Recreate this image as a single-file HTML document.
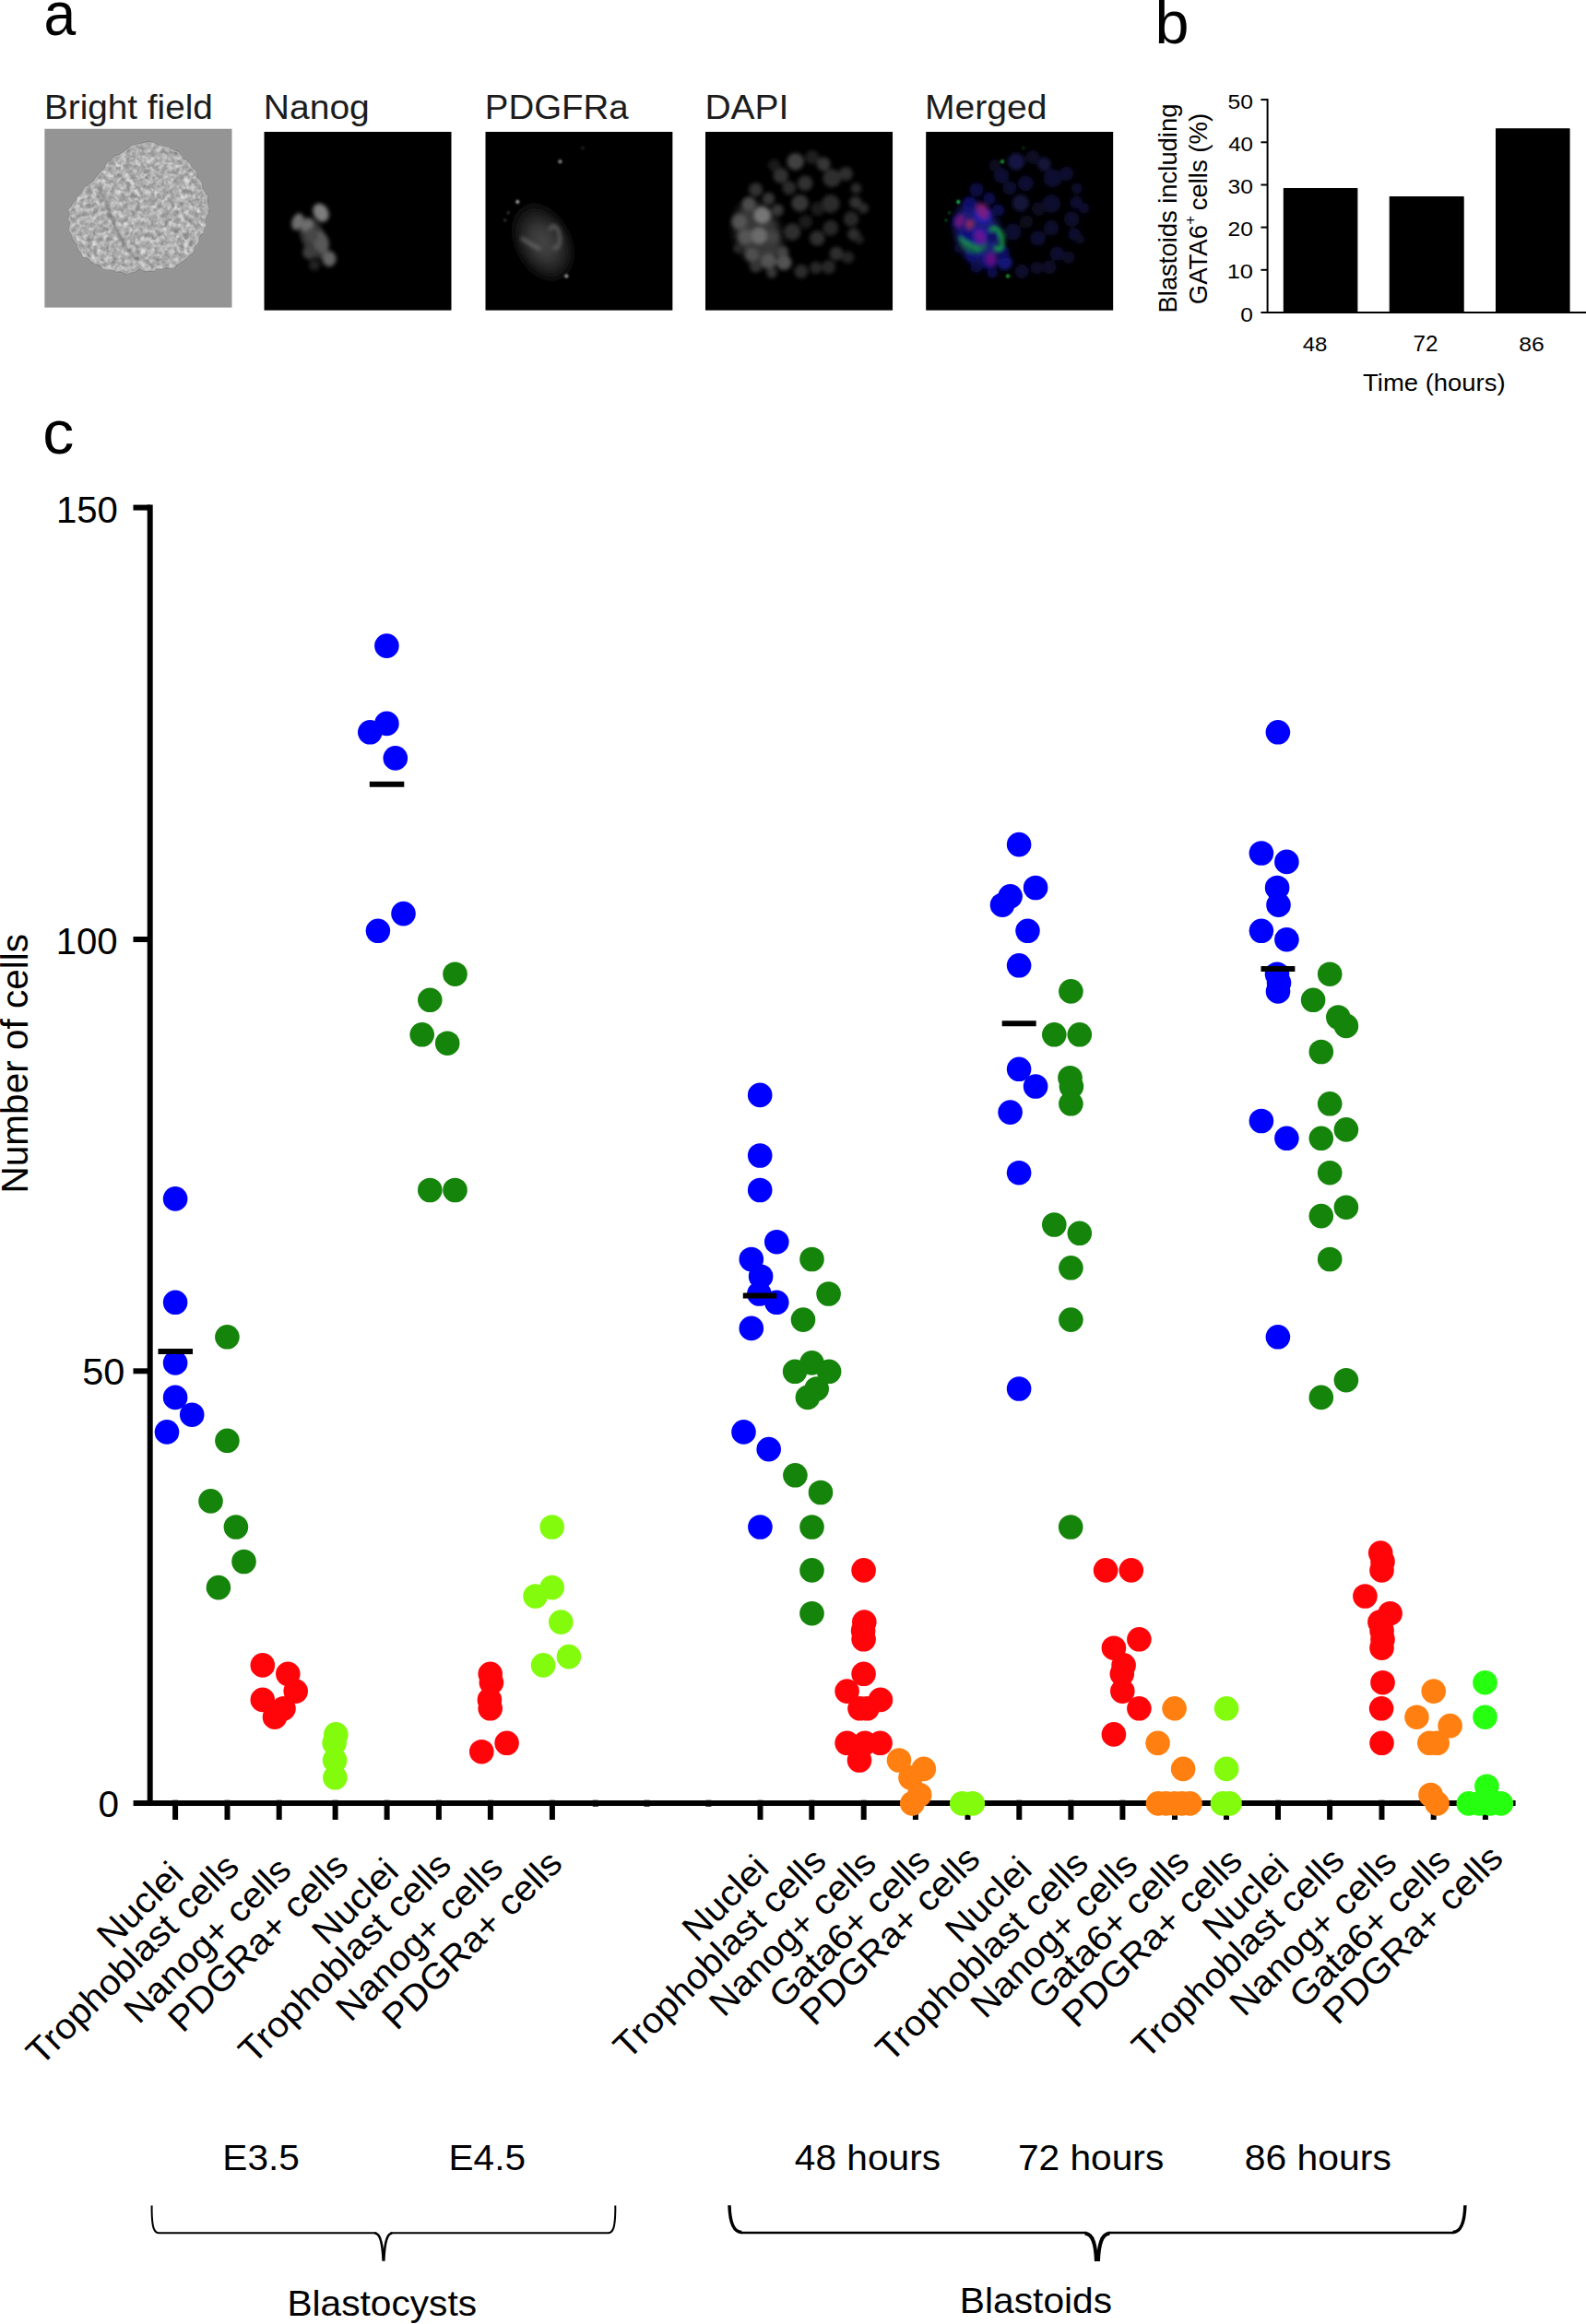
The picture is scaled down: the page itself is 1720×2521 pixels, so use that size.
<!DOCTYPE html>
<html lang="en"><head><meta charset="utf-8"><title>Figure</title>
<style>html,body{margin:0;padding:0;background:#fff}svg{display:block}text{font-family:"Liberation Sans", Arial, Helvetica, sans-serif;fill:#000}</style>
</head><body>
<svg width="1720" height="2521" viewBox="0 0 1720 2521">
<defs>
<filter id="b1" x="-50%" y="-50%" width="200%" height="200%"><feGaussianBlur stdDeviation="1.2"/></filter>
<filter id="b2" x="-50%" y="-50%" width="200%" height="200%"><feGaussianBlur stdDeviation="2.2"/></filter>
<filter id="b3" x="-50%" y="-50%" width="200%" height="200%"><feGaussianBlur stdDeviation="4"/></filter>
<filter id="b05" x="-50%" y="-50%" width="200%" height="200%"><feGaussianBlur stdDeviation="0.7"/></filter>
<filter id="tex" x="0" y="0" width="100%" height="100%"><feTurbulence type="fractalNoise" baseFrequency="0.17" numOctaves="2" seed="7" result="n"/><feColorMatrix in="n" type="matrix" values="0 0 0 0 0  0 0 0 0 0  0 0 0 0 0  2.6 0 0 0 -0.95" result="a"/><feFlood flood-color="#e6e6e6" result="f"/><feComposite in="f" in2="a" operator="in" result="sp"/><feComposite in="sp" in2="SourceGraphic" operator="in"/><feGaussianBlur stdDeviation="0.5"/></filter>
<filter id="texd" x="0" y="0" width="100%" height="100%"><feTurbulence type="fractalNoise" baseFrequency="0.19" numOctaves="2" seed="23" result="n"/><feColorMatrix in="n" type="matrix" values="0 0 0 0 0  0 0 0 0 0  0 0 0 0 0  0 2.4 0 0 -0.95" result="a"/><feFlood flood-color="#6c6c6c" result="f"/><feComposite in="f" in2="a" operator="in" result="sp"/><feComposite in="sp" in2="SourceGraphic" operator="in"/><feGaussianBlur stdDeviation="0.5"/></filter>
<clipPath id="cA"><rect x="48.2" y="139.5" width="203.5" height="194.3"/></clipPath>
<clipPath id="cB"><rect x="286.3" y="143" width="203.4" height="193.8"/></clipPath>
<clipPath id="cC"><rect x="526.3" y="143" width="203.3" height="193.8"/></clipPath>
<clipPath id="cD"><rect x="764.9" y="143" width="203.3" height="193.8"/></clipPath>
<clipPath id="cE"><rect x="1004.1" y="143" width="203.3" height="193.8"/></clipPath>
<radialGradient id="rgP" cx="0.5" cy="0.55" r="0.5"><stop offset="0" stop-color="#484848"/><stop offset="0.4" stop-color="#363636"/><stop offset="0.7" stop-color="#1c1c1c"/><stop offset="1" stop-color="#000"/></radialGradient>
</defs>
<rect width="1720" height="2521" fill="#fff"/>
<text transform="translate(47.45 38.45) scale(0.9456 0.9986)" font-size="66">a</text>
<text transform="translate(1252.41 47.31) scale(1.0084 0.9824)" font-size="66">b</text>
<text transform="translate(46.37 491.50) scale(1.0298 1.0056)" font-size="66">c</text>
<text transform="translate(47.93 129.40) scale(1.0554 1.0000)" font-size="36.7" style="fill:#1c1c1c">Bright field</text>
<text transform="translate(285.81 129.40) scale(1.0637 1.0000)" font-size="36.7" style="fill:#1c1c1c">Nanog</text>
<text transform="translate(525.86 129.40) scale(1.0470 1.0000)" font-size="36.7" style="fill:#1c1c1c">PDGFRa</text>
<text transform="translate(764.41 129.40) scale(1.0625 1.0000)" font-size="36.7" style="fill:#1c1c1c">DAPI</text>
<text transform="translate(1003.01 129.40) scale(1.0647 1.0000)" font-size="36.7" style="fill:#1c1c1c">Merged</text>
<g clip-path="url(#cA)">
<rect x="48.2" y="139.5" width="203.5" height="194.3" fill="#949494"/>
<path d="M88.8 207.5 L91.6 202.9 L98.0 198.4 L103.1 193.3 L106.3 188.0 L110.2 185.0 L113.2 182.2 L114.5 177.8 L117.1 174.9 L120.3 173.6 L122.2 170.7 L124.7 168.1 L129.2 167.3 L134.6 163.7 L141.0 158.3 L148.4 156.0 L155.1 154.5 L161.6 152.9 L167.8 154.6 L173.1 157.7 L178.6 158.0 L183.1 158.6 L186.0 161.2 L189.5 162.2 L193.4 163.4 L196.0 167.6 L199.1 171.3 L203.6 173.6 L206.3 177.3 L208.1 181.1 L211.7 183.3 L213.9 186.6 L214.3 191.3 L216.8 195.0 L219.7 198.8 L220.3 203.6 L222.2 207.9 L225.6 212.2 L226.2 217.2 L225.9 222.3 L227.3 227.1 L226.5 231.9 L223.8 236.5 L223.7 241.1 L223.9 245.3 L221.9 248.0 L221.3 250.3 L221.5 252.8 L218.9 254.8 L216.2 257.5 L215.8 261.7 L214.0 265.4 L211.3 268.2 L210.7 272.1 L209.4 275.5 L205.8 276.9 L203.3 279.4 L201.0 282.8 L196.8 284.6 L193.0 286.8 L190.4 290.5 L186.1 291.5 L180.9 290.9 L176.9 292.2 L173.3 292.7 L170.2 291.6 L168.7 292.9 L167.4 295.1 L164.9 294.5 L161.7 294.1 L158.2 295.1 L154.4 293.7 L151.0 292.2 L148.1 294.3 L145.4 296.0 L142.9 295.9 L139.8 297.6 L136.3 298.5 L133.2 296.2 L129.8 294.9 L125.9 295.4 L122.8 293.9 L119.7 292.5 L115.3 293.2 L111.5 291.9 L108.3 288.7 L103.5 287.0 L98.8 285.1 L96.3 281.7 L93.4 280.0 L89.8 279.4 L88.6 276.8 L87.4 274.1 L84.5 272.3 L83.3 269.2 L83.1 265.4 L80.5 263.0 L78.1 260.2 L77.8 256.3 L76.1 252.9 L74.0 249.7 L75.0 245.7 L75.5 241.9 L73.8 238.7 L74.0 235.4 L75.1 232.3 L73.8 229.6 L73.9 226.9 L76.6 224.3 L77.6 222.1 L78.1 220.0 L80.9 218.1 L82.5 216.1 L82.0 214.0 L84.0 212.4 L87.1 210.7 Z" fill="#acacac" filter="url(#b1)"/>
<path d="M88.8 207.5 L91.6 202.9 L98.0 198.4 L103.1 193.3 L106.3 188.0 L110.2 185.0 L113.2 182.2 L114.5 177.8 L117.1 174.9 L120.3 173.6 L122.2 170.7 L124.7 168.1 L129.2 167.3 L134.6 163.7 L141.0 158.3 L148.4 156.0 L155.1 154.5 L161.6 152.9 L167.8 154.6 L173.1 157.7 L178.6 158.0 L183.1 158.6 L186.0 161.2 L189.5 162.2 L193.4 163.4 L196.0 167.6 L199.1 171.3 L203.6 173.6 L206.3 177.3 L208.1 181.1 L211.7 183.3 L213.9 186.6 L214.3 191.3 L216.8 195.0 L219.7 198.8 L220.3 203.6 L222.2 207.9 L225.6 212.2 L226.2 217.2 L225.9 222.3 L227.3 227.1 L226.5 231.9 L223.8 236.5 L223.7 241.1 L223.9 245.3 L221.9 248.0 L221.3 250.3 L221.5 252.8 L218.9 254.8 L216.2 257.5 L215.8 261.7 L214.0 265.4 L211.3 268.2 L210.7 272.1 L209.4 275.5 L205.8 276.9 L203.3 279.4 L201.0 282.8 L196.8 284.6 L193.0 286.8 L190.4 290.5 L186.1 291.5 L180.9 290.9 L176.9 292.2 L173.3 292.7 L170.2 291.6 L168.7 292.9 L167.4 295.1 L164.9 294.5 L161.7 294.1 L158.2 295.1 L154.4 293.7 L151.0 292.2 L148.1 294.3 L145.4 296.0 L142.9 295.9 L139.8 297.6 L136.3 298.5 L133.2 296.2 L129.8 294.9 L125.9 295.4 L122.8 293.9 L119.7 292.5 L115.3 293.2 L111.5 291.9 L108.3 288.7 L103.5 287.0 L98.8 285.1 L96.3 281.7 L93.4 280.0 L89.8 279.4 L88.6 276.8 L87.4 274.1 L84.5 272.3 L83.3 269.2 L83.1 265.4 L80.5 263.0 L78.1 260.2 L77.8 256.3 L76.1 252.9 L74.0 249.7 L75.0 245.7 L75.5 241.9 L73.8 238.7 L74.0 235.4 L75.1 232.3 L73.8 229.6 L73.9 226.9 L76.6 224.3 L77.6 222.1 L78.1 220.0 L80.9 218.1 L82.5 216.1 L82.0 214.0 L84.0 212.4 L87.1 210.7 Z" fill="#fff" filter="url(#tex)" opacity="0.8"/>
<path d="M88.8 207.5 L91.6 202.9 L98.0 198.4 L103.1 193.3 L106.3 188.0 L110.2 185.0 L113.2 182.2 L114.5 177.8 L117.1 174.9 L120.3 173.6 L122.2 170.7 L124.7 168.1 L129.2 167.3 L134.6 163.7 L141.0 158.3 L148.4 156.0 L155.1 154.5 L161.6 152.9 L167.8 154.6 L173.1 157.7 L178.6 158.0 L183.1 158.6 L186.0 161.2 L189.5 162.2 L193.4 163.4 L196.0 167.6 L199.1 171.3 L203.6 173.6 L206.3 177.3 L208.1 181.1 L211.7 183.3 L213.9 186.6 L214.3 191.3 L216.8 195.0 L219.7 198.8 L220.3 203.6 L222.2 207.9 L225.6 212.2 L226.2 217.2 L225.9 222.3 L227.3 227.1 L226.5 231.9 L223.8 236.5 L223.7 241.1 L223.9 245.3 L221.9 248.0 L221.3 250.3 L221.5 252.8 L218.9 254.8 L216.2 257.5 L215.8 261.7 L214.0 265.4 L211.3 268.2 L210.7 272.1 L209.4 275.5 L205.8 276.9 L203.3 279.4 L201.0 282.8 L196.8 284.6 L193.0 286.8 L190.4 290.5 L186.1 291.5 L180.9 290.9 L176.9 292.2 L173.3 292.7 L170.2 291.6 L168.7 292.9 L167.4 295.1 L164.9 294.5 L161.7 294.1 L158.2 295.1 L154.4 293.7 L151.0 292.2 L148.1 294.3 L145.4 296.0 L142.9 295.9 L139.8 297.6 L136.3 298.5 L133.2 296.2 L129.8 294.9 L125.9 295.4 L122.8 293.9 L119.7 292.5 L115.3 293.2 L111.5 291.9 L108.3 288.7 L103.5 287.0 L98.8 285.1 L96.3 281.7 L93.4 280.0 L89.8 279.4 L88.6 276.8 L87.4 274.1 L84.5 272.3 L83.3 269.2 L83.1 265.4 L80.5 263.0 L78.1 260.2 L77.8 256.3 L76.1 252.9 L74.0 249.7 L75.0 245.7 L75.5 241.9 L73.8 238.7 L74.0 235.4 L75.1 232.3 L73.8 229.6 L73.9 226.9 L76.6 224.3 L77.6 222.1 L78.1 220.0 L80.9 218.1 L82.5 216.1 L82.0 214.0 L84.0 212.4 L87.1 210.7 Z" fill="#fff" filter="url(#texd)" opacity="0.6"/>
<path d="M108 203 C116 223 124 246 134 264 C139 273 146 279 151 282" stroke="#747474" stroke-width="3" fill="none" filter="url(#b1)" opacity="0.6"/>
<path d="M112 203 C120 223 128 246 138 263 C143 271 149 277 154 280" stroke="#b4b4b4" stroke-width="2" fill="none" filter="url(#b1)" opacity="0.6"/>
<path d="M88.8 207.5 L91.6 202.9 L98.0 198.4 L103.1 193.3 L106.3 188.0 L110.2 185.0 L113.2 182.2 L114.5 177.8 L117.1 174.9 L120.3 173.6 L122.2 170.7 L124.7 168.1 L129.2 167.3 L134.6 163.7 L141.0 158.3 L148.4 156.0 L155.1 154.5 L161.6 152.9 L167.8 154.6 L173.1 157.7 L178.6 158.0 L183.1 158.6 L186.0 161.2 L189.5 162.2 L193.4 163.4 L196.0 167.6 L199.1 171.3 L203.6 173.6 L206.3 177.3 L208.1 181.1 L211.7 183.3 L213.9 186.6 L214.3 191.3 L216.8 195.0 L219.7 198.8 L220.3 203.6 L222.2 207.9 L225.6 212.2 L226.2 217.2 L225.9 222.3 L227.3 227.1 L226.5 231.9 L223.8 236.5 L223.7 241.1 L223.9 245.3 L221.9 248.0 L221.3 250.3 L221.5 252.8 L218.9 254.8 L216.2 257.5 L215.8 261.7 L214.0 265.4 L211.3 268.2 L210.7 272.1 L209.4 275.5 L205.8 276.9 L203.3 279.4 L201.0 282.8 L196.8 284.6 L193.0 286.8 L190.4 290.5 L186.1 291.5 L180.9 290.9 L176.9 292.2 L173.3 292.7 L170.2 291.6 L168.7 292.9 L167.4 295.1 L164.9 294.5 L161.7 294.1 L158.2 295.1 L154.4 293.7 L151.0 292.2 L148.1 294.3 L145.4 296.0 L142.9 295.9 L139.8 297.6 L136.3 298.5 L133.2 296.2 L129.8 294.9 L125.9 295.4 L122.8 293.9 L119.7 292.5 L115.3 293.2 L111.5 291.9 L108.3 288.7 L103.5 287.0 L98.8 285.1 L96.3 281.7 L93.4 280.0 L89.8 279.4 L88.6 276.8 L87.4 274.1 L84.5 272.3 L83.3 269.2 L83.1 265.4 L80.5 263.0 L78.1 260.2 L77.8 256.3 L76.1 252.9 L74.0 249.7 L75.0 245.7 L75.5 241.9 L73.8 238.7 L74.0 235.4 L75.1 232.3 L73.8 229.6 L73.9 226.9 L76.6 224.3 L77.6 222.1 L78.1 220.0 L80.9 218.1 L82.5 216.1 L82.0 214.0 L84.0 212.4 L87.1 210.7 Z" fill="none" stroke="#808080" stroke-width="1.1" filter="url(#b05)" opacity="0.8"/>
<path d="M88.8 207.5 L91.6 202.9 L98.0 198.4 L103.1 193.3 L106.3 188.0 L110.2 185.0 L113.2 182.2 L114.5 177.8 L117.1 174.9 L120.3 173.6 L122.2 170.7 L124.7 168.1 L129.2 167.3 L134.6 163.7 L141.0 158.3 L148.4 156.0 L155.1 154.5 L161.6 152.9 L167.8 154.6 L173.1 157.7 L178.6 158.0 L183.1 158.6 L186.0 161.2 L189.5 162.2 L193.4 163.4 L196.0 167.6 L199.1 171.3 L203.6 173.6 L206.3 177.3 L208.1 181.1 L211.7 183.3 L213.9 186.6 L214.3 191.3 L216.8 195.0 L219.7 198.8 L220.3 203.6 L222.2 207.9 L225.6 212.2 L226.2 217.2 L225.9 222.3 L227.3 227.1 L226.5 231.9 L223.8 236.5 L223.7 241.1 L223.9 245.3 L221.9 248.0 L221.3 250.3 L221.5 252.8 L218.9 254.8 L216.2 257.5 L215.8 261.7 L214.0 265.4 L211.3 268.2 L210.7 272.1 L209.4 275.5 L205.8 276.9 L203.3 279.4 L201.0 282.8 L196.8 284.6 L193.0 286.8 L190.4 290.5 L186.1 291.5 L180.9 290.9 L176.9 292.2 L173.3 292.7 L170.2 291.6 L168.7 292.9 L167.4 295.1 L164.9 294.5 L161.7 294.1 L158.2 295.1 L154.4 293.7 L151.0 292.2 L148.1 294.3 L145.4 296.0 L142.9 295.9 L139.8 297.6 L136.3 298.5 L133.2 296.2 L129.8 294.9 L125.9 295.4 L122.8 293.9 L119.7 292.5 L115.3 293.2 L111.5 291.9 L108.3 288.7 L103.5 287.0 L98.8 285.1 L96.3 281.7 L93.4 280.0 L89.8 279.4 L88.6 276.8 L87.4 274.1 L84.5 272.3 L83.3 269.2 L83.1 265.4 L80.5 263.0 L78.1 260.2 L77.8 256.3 L76.1 252.9 L74.0 249.7 L75.0 245.7 L75.5 241.9 L73.8 238.7 L74.0 235.4 L75.1 232.3 L73.8 229.6 L73.9 226.9 L76.6 224.3 L77.6 222.1 L78.1 220.0 L80.9 218.1 L82.5 216.1 L82.0 214.0 L84.0 212.4 L87.1 210.7 Z" fill="none" stroke="#b8b8b8" stroke-width="1.2" filter="url(#b05)" transform="translate(151 226) scale(0.975) translate(-151 -226)" opacity="0.7"/>
</g>
<g clip-path="url(#cB)">
<rect x="286.3" y="143" width="203.4" height="193.8" fill="#000"/>
<g filter="url(#b2)">
<ellipse cx="340.0" cy="258.0" rx="13.0" ry="24.0" transform="rotate(-25 340.0 258.0)" fill="rgb(52,52,52)"/>
<ellipse cx="348.0" cy="230.7" rx="8.0" ry="10.5" transform="rotate(-30 348.0 230.7)" fill="rgb(125,125,125)"/>
<ellipse cx="322.7" cy="240.4" rx="6.0" ry="9.5" transform="rotate(20 322.7 240.4)" fill="rgb(110,110,110)"/>
<ellipse cx="333.4" cy="244.6" rx="6.0" ry="7.5" transform="rotate(30 333.4 244.6)" fill="rgb(110,110,110)"/>
<ellipse cx="348.0" cy="262.6" rx="8.5" ry="12.0" transform="rotate(-20 348.0 262.6)" fill="rgb(88,88,88)"/>
<ellipse cx="357.0" cy="280.7" rx="7.5" ry="8.5" transform="rotate(0 357.0 280.7)" fill="rgb(100,100,100)"/>
<ellipse cx="335.5" cy="273.7" rx="7.5" ry="7.5" transform="rotate(0 335.5 273.7)" fill="rgb(60,60,60)"/>
<ellipse cx="341.0" cy="287.6" rx="6.0" ry="6.0" transform="rotate(0 341.0 287.6)" fill="rgb(36,36,36)"/>
<ellipse cx="338.0" cy="255.0" rx="7.0" ry="8.0" transform="rotate(0 338.0 255.0)" fill="rgb(70,70,70)"/>
</g></g>
<g clip-path="url(#cC)">
<rect x="526.3" y="143" width="203.3" height="193.8" fill="#000"/>
<g filter="url(#b3)"><ellipse cx="587" cy="259" rx="32" ry="48" transform="rotate(-27 587 259)" fill="url(#rgP)"/></g>
<g filter="url(#b2)">
<path d="M565 258 C572 262 580 268 586 270" stroke="#707070" stroke-width="3" fill="none"/>
<path d="M596 250 C600 240 606 246 607 258 C608 266 604 272 600 268" stroke="#686868" stroke-width="3" fill="none"/>
</g>
<g filter="url(#b1)">
<circle cx="607.4" cy="175.2" r="2.0" fill="rgb(150,150,150)"/>
<circle cx="561.3" cy="218.9" r="1.9" fill="rgb(190,190,190)"/>
<circle cx="614.3" cy="299.4" r="2.0" fill="rgb(170,170,170)"/>
<circle cx="551.2" cy="230.7" r="1.2" fill="rgb(100,100,100)"/>
<circle cx="547.7" cy="239.0" r="1.2" fill="rgb(100,100,100)"/>
<circle cx="632.0" cy="160.5" r="2.0" fill="rgb(26,26,26)"/>
</g></g>
<g clip-path="url(#cD)">
<rect x="764.9" y="143" width="203.3" height="193.8" fill="#000"/>
<g filter="url(#b3)"><ellipse cx="822" cy="254" rx="24" ry="36" transform="rotate(-20 822 254)" fill="#383838"/></g>
<g filter="url(#b2)">
<circle cx="826.6" cy="233.5" r="9.2" fill="rgb(129,129,129)" opacity="0.85"/>
<circle cx="823.1" cy="255.7" r="9.2" fill="rgb(116,116,116)" opacity="0.85"/>
<circle cx="812.0" cy="221.0" r="7.5" fill="rgb(84,84,84)" opacity="0.85"/>
<circle cx="801.6" cy="240.4" r="8.3" fill="rgb(90,90,90)" opacity="0.85"/>
<circle cx="808.6" cy="257.1" r="8.3" fill="rgb(90,90,90)" opacity="0.85"/>
<circle cx="819.6" cy="205.7" r="7.5" fill="rgb(58,58,58)" opacity="0.85"/>
<circle cx="833.5" cy="215.5" r="6.7" fill="rgb(64,64,64)" opacity="0.85"/>
<circle cx="843.2" cy="227.9" r="6.7" fill="rgb(64,64,64)" opacity="0.85"/>
<circle cx="815.5" cy="276.5" r="7.5" fill="rgb(84,84,84)" opacity="0.85"/>
<circle cx="833.5" cy="283.4" r="8.3" fill="rgb(90,90,90)" opacity="0.85"/>
<circle cx="850.2" cy="284.8" r="8.3" fill="rgb(97,97,97)" opacity="0.85"/>
<circle cx="848.8" cy="273.7" r="6.7" fill="rgb(77,77,77)" opacity="0.85"/>
<circle cx="819.6" cy="289.0" r="6.7" fill="rgb(58,58,58)" opacity="0.85"/>
<circle cx="837.0" cy="295.9" r="5.8" fill="rgb(64,64,64)" opacity="0.85"/>
<circle cx="837.7" cy="257.1" r="6.7" fill="rgb(71,71,71)" opacity="0.85"/>
<circle cx="800.2" cy="269.6" r="5.0" fill="rgb(45,45,45)" opacity="0.85"/>
<circle cx="862.6" cy="175.2" r="9.2" fill="rgb(77,77,77)" opacity="0.85"/>
<circle cx="893.2" cy="178.0" r="7.5" fill="rgb(64,64,64)" opacity="0.85"/>
<circle cx="880.7" cy="170.4" r="7.5" fill="rgb(38,38,38)" opacity="0.85"/>
<circle cx="846.7" cy="190.5" r="8.3" fill="rgb(58,58,58)" opacity="0.85"/>
<circle cx="839.8" cy="179.4" r="6.7" fill="rgb(32,32,32)" opacity="0.85"/>
<circle cx="873.1" cy="198.8" r="8.3" fill="rgb(58,58,58)" opacity="0.85"/>
<circle cx="855.7" cy="203.7" r="7.5" fill="rgb(51,51,51)" opacity="0.85"/>
<circle cx="902.2" cy="193.3" r="10.0" fill="rgb(55,55,55)" opacity="0.85"/>
<circle cx="917.4" cy="188.4" r="7.5" fill="rgb(55,55,55)" opacity="0.85"/>
<circle cx="928.5" cy="204.4" r="5.8" fill="rgb(51,51,51)" opacity="0.85"/>
<circle cx="867.5" cy="220.3" r="9.2" fill="rgb(64,64,64)" opacity="0.85"/>
<circle cx="900.8" cy="221.0" r="10.0" fill="rgb(51,51,51)" opacity="0.85"/>
<circle cx="927.8" cy="219.6" r="6.7" fill="rgb(58,58,58)" opacity="0.85"/>
<circle cx="936.2" cy="225.9" r="5.8" fill="rgb(51,51,51)" opacity="0.85"/>
<circle cx="923.0" cy="237.6" r="8.3" fill="rgb(48,48,48)" opacity="0.85"/>
<circle cx="886.9" cy="226.6" r="7.5" fill="rgb(32,32,32)" opacity="0.85"/>
<circle cx="859.2" cy="251.5" r="9.2" fill="rgb(55,55,55)" opacity="0.85"/>
<circle cx="900.8" cy="247.4" r="8.3" fill="rgb(48,48,48)" opacity="0.85"/>
<circle cx="886.2" cy="258.5" r="8.3" fill="rgb(55,55,55)" opacity="0.85"/>
<circle cx="925.8" cy="254.3" r="6.7" fill="rgb(55,55,55)" opacity="0.85"/>
<circle cx="932.0" cy="259.8" r="5.0" fill="rgb(38,38,38)" opacity="0.85"/>
<circle cx="907.0" cy="275.1" r="7.5" fill="rgb(55,55,55)" opacity="0.85"/>
<circle cx="919.5" cy="279.3" r="6.7" fill="rgb(42,42,42)" opacity="0.85"/>
<circle cx="884.8" cy="290.4" r="6.7" fill="rgb(45,45,45)" opacity="0.85"/>
<circle cx="898.7" cy="289.7" r="7.5" fill="rgb(45,45,45)" opacity="0.85"/>
<circle cx="868.9" cy="294.5" r="7.5" fill="rgb(51,51,51)" opacity="0.85"/>
<circle cx="873.7" cy="240.4" r="7.5" fill="rgb(29,29,29)" opacity="0.85"/>
</g></g>
<g clip-path="url(#cE)">
<rect x="1004.1" y="143" width="203.3" height="193.8" fill="#000"/>
<g filter="url(#b3)"><ellipse cx="1061" cy="254" rx="24" ry="36" transform="rotate(-20 1061 254)" fill="#1c1c78"/></g>
<g filter="url(#b2)">
<circle cx="1065.9" cy="233.5" r="9.2" fill="rgb(28,28,180)" opacity="0.9"/>
<circle cx="1062.4" cy="255.7" r="9.2" fill="rgb(25,25,161)" opacity="0.9"/>
<circle cx="1051.3" cy="221.0" r="7.5" fill="rgb(18,18,114)" opacity="0.9"/>
<circle cx="1040.9" cy="240.4" r="8.3" fill="rgb(19,19,123)" opacity="0.9"/>
<circle cx="1047.9" cy="257.1" r="8.3" fill="rgb(19,19,123)" opacity="0.9"/>
<circle cx="1059.0" cy="205.7" r="7.5" fill="rgb(12,12,76)" opacity="0.9"/>
<circle cx="1072.8" cy="215.5" r="6.7" fill="rgb(13,13,85)" opacity="0.9"/>
<circle cx="1082.5" cy="227.9" r="6.7" fill="rgb(13,13,85)" opacity="0.9"/>
<circle cx="1054.8" cy="276.5" r="7.5" fill="rgb(18,18,114)" opacity="0.9"/>
<circle cx="1072.8" cy="283.4" r="8.3" fill="rgb(19,19,123)" opacity="0.9"/>
<circle cx="1089.5" cy="284.8" r="8.3" fill="rgb(21,21,133)" opacity="0.9"/>
<circle cx="1088.1" cy="273.7" r="6.7" fill="rgb(16,16,104)" opacity="0.9"/>
<circle cx="1059.0" cy="289.0" r="6.7" fill="rgb(12,12,76)" opacity="0.9"/>
<circle cx="1076.3" cy="295.9" r="5.8" fill="rgb(13,13,85)" opacity="0.9"/>
<circle cx="1077.0" cy="257.1" r="6.7" fill="rgb(15,15,95)" opacity="0.9"/>
<circle cx="1039.5" cy="269.6" r="5.0" fill="rgb(9,9,57)" opacity="0.9"/>
<circle cx="1102.0" cy="175.2" r="9.2" fill="rgb(25,25,76)" opacity="0.9"/>
<circle cx="1132.5" cy="178.0" r="7.5" fill="rgb(20,20,64)" opacity="0.9"/>
<circle cx="1120.0" cy="170.4" r="7.5" fill="rgb(12,12,40)" opacity="0.9"/>
<circle cx="1086.0" cy="190.5" r="8.3" fill="rgb(18,18,58)" opacity="0.9"/>
<circle cx="1079.1" cy="179.4" r="6.7" fill="rgb(10,10,34)" opacity="0.9"/>
<circle cx="1112.4" cy="198.8" r="8.3" fill="rgb(18,18,58)" opacity="0.9"/>
<circle cx="1095.0" cy="203.7" r="7.5" fill="rgb(16,16,52)" opacity="0.9"/>
<circle cx="1141.5" cy="193.3" r="10.0" fill="rgb(17,17,55)" opacity="0.9"/>
<circle cx="1156.7" cy="188.4" r="7.5" fill="rgb(17,17,55)" opacity="0.9"/>
<circle cx="1167.8" cy="204.4" r="5.8" fill="rgb(16,16,52)" opacity="0.9"/>
<circle cx="1106.8" cy="220.3" r="9.2" fill="rgb(20,20,64)" opacity="0.9"/>
<circle cx="1140.1" cy="221.0" r="10.0" fill="rgb(16,16,52)" opacity="0.9"/>
<circle cx="1167.2" cy="219.6" r="6.7" fill="rgb(18,18,58)" opacity="0.9"/>
<circle cx="1175.5" cy="225.9" r="5.8" fill="rgb(16,16,52)" opacity="0.9"/>
<circle cx="1162.3" cy="237.6" r="8.3" fill="rgb(15,15,49)" opacity="0.9"/>
<circle cx="1126.2" cy="226.6" r="7.5" fill="rgb(10,10,34)" opacity="0.9"/>
<circle cx="1098.5" cy="251.5" r="9.2" fill="rgb(17,17,55)" opacity="0.9"/>
<circle cx="1140.1" cy="247.4" r="8.3" fill="rgb(15,15,49)" opacity="0.9"/>
<circle cx="1125.5" cy="258.5" r="8.3" fill="rgb(17,17,55)" opacity="0.9"/>
<circle cx="1165.1" cy="254.3" r="6.7" fill="rgb(17,17,55)" opacity="0.9"/>
<circle cx="1171.3" cy="259.8" r="5.0" fill="rgb(12,12,40)" opacity="0.9"/>
<circle cx="1146.3" cy="275.1" r="7.5" fill="rgb(17,17,55)" opacity="0.9"/>
<circle cx="1158.8" cy="279.3" r="6.7" fill="rgb(13,13,43)" opacity="0.9"/>
<circle cx="1124.2" cy="290.4" r="6.7" fill="rgb(14,14,46)" opacity="0.9"/>
<circle cx="1138.0" cy="289.7" r="7.5" fill="rgb(14,14,46)" opacity="0.9"/>
<circle cx="1108.2" cy="294.5" r="7.5" fill="rgb(16,16,52)" opacity="0.9"/>
<circle cx="1113.1" cy="240.4" r="7.5" fill="rgb(9,9,31)" opacity="0.9"/>
<ellipse cx="1065.5" cy="229.0" rx="6.0" ry="9.0" transform="rotate(-25 1065.5 229.0)" fill="#b02068" opacity="0.62"/>
<ellipse cx="1041.0" cy="239.5" rx="4.5" ry="7.0" transform="rotate(20 1041.0 239.5)" fill="#a01878" opacity="0.62"/>
<ellipse cx="1052.0" cy="243.0" rx="4.5" ry="5.5" transform="rotate(30 1052.0 243.0)" fill="#c03050" opacity="0.62"/>
<ellipse cx="1063.0" cy="257.0" rx="5.5" ry="8.0" transform="rotate(-20 1063.0 257.0)" fill="#901890" opacity="0.62"/>
<ellipse cx="1074.5" cy="281.0" rx="5.5" ry="7.0" transform="rotate(0 1074.5 281.0)" fill="#901088" opacity="0.62"/>
<path d="M1040 258 C1048 264 1056 268 1064 270" stroke="#18a040" stroke-width="4" fill="none" opacity="0.9"/>
<path d="M1074 250 C1080 242 1086 252 1087 262 C1087 270 1082 272 1078 268" stroke="#18b040" stroke-width="4" fill="none" opacity="0.9"/>
<path d="M1044 262 C1050 276 1062 274 1070 266" stroke="#108838" stroke-width="5" fill="none" opacity="0.6"/>
</g>
<g filter="url(#b1)">
<circle cx="1087.0" cy="175.2" r="2.0" fill="#1cae3a"/>
<circle cx="1039.3" cy="219.0" r="1.9" fill="#2cd058"/>
<circle cx="1093.0" cy="299.5" r="2.0" fill="#24b03a"/>
<circle cx="1029.5" cy="230.7" r="1.2" fill="#168028"/>
<circle cx="1026.0" cy="239.0" r="1.2" fill="#168028"/>
<circle cx="1110.0" cy="160.5" r="2.0" fill="#0a280c"/>
</g></g>
<g stroke="#000" stroke-width="2" fill="none">
<path d="M1374.6 107.1 V340.0"/>
<path d="M1367.4 339.0 H1720"/>
<path d="M1367.4 292.8 H1374.6"/>
<path d="M1367.4 246.6 H1374.6"/>
<path d="M1367.4 200.5 H1374.6"/>
<path d="M1367.4 154.3 H1374.6"/>
<path d="M1367.4 108.1 H1374.6"/>
</g>
<g fill="#000" stroke="#000" stroke-width="1.2" stroke-linejoin="round">
<rect x="1392.4" y="204.5" width="79.4" height="134.5"/>
<rect x="1507.3" y="213.7" width="79.8" height="125.3"/>
<rect x="1622.6" y="139.8" width="79.4" height="199.2"/>
</g>
<text transform="translate(1345.36 348.59) scale(1.1143 1.0387)" font-size="22">0</text>
<text transform="translate(1330.67 302.41) scale(1.1586 1.0387)" font-size="22">10</text>
<text transform="translate(1331.58 256.23) scale(1.1200 1.0387)" font-size="22">20</text>
<text transform="translate(1331.58 210.05) scale(1.1200 1.0387)" font-size="22">30</text>
<text transform="translate(1332.15 163.87) scale(1.0957 1.0387)" font-size="22">40</text>
<text transform="translate(1331.58 117.69) scale(1.1200 1.0387)" font-size="22">50</text>
<text transform="translate(1412.65 380.84) scale(1.0913 1.0387)" font-size="22">48</text>
<text transform="translate(1532.52 381.10) scale(1.1011 1.0557)" font-size="22">72</text>
<text transform="translate(1647.28 380.84) scale(1.1244 1.0387)" font-size="22">86</text>
<text transform="translate(1478.08 424.00) scale(1.0478 1.0000)" font-size="26.2">Time (hours)</text>
<text transform="translate(1275.70 339.48) rotate(-90) scale(1.0152 1.0000)" font-size="27">Blastoids including</text>
<text transform="translate(1309.40 330.18) rotate(-90) scale(1.0207 1.0000)" font-size="27">GATA6</text>
<text transform="translate(1309.40 228.27) rotate(-90) scale(1.0179 1.0000)" font-size="27">cells (%)</text>
<text transform="translate(1286.15 243.54) scale(1.0000 1.0250)" font-size="16.5">+</text>
<g stroke="#000" stroke-width="6" fill="none">
<path d="M162.7 547.6 V1959.1"/>
<path d="M144.6 1956.1 H1643.6"/>
<path d="M144.5 1487.3 H162.7"/>
<path d="M144.5 1019.0 H162.7"/>
<path d="M144.5 550.6 H162.7"/>
<path d="M190.1 1952.7 V1974"/>
<path d="M246.5 1952.7 V1974"/>
<path d="M302.7 1952.7 V1974"/>
<path d="M363.6 1952.7 V1974"/>
<path d="M419.6 1952.7 V1974"/>
<path d="M475.9 1952.7 V1974"/>
<path d="M531.9 1952.7 V1974"/>
<path d="M598.9 1952.7 V1974"/>
<path d="M824.5 1952.7 V1974"/>
<path d="M880.3 1952.7 V1974"/>
<path d="M936.7 1952.7 V1974"/>
<path d="M992.9 1952.7 V1974"/>
<path d="M1049.5 1952.7 V1974"/>
<path d="M1105.3 1952.7 V1974"/>
<path d="M1161.4 1952.7 V1974"/>
<path d="M1217.4 1952.7 V1974"/>
<path d="M1274.0 1952.7 V1974"/>
<path d="M1330.0 1952.7 V1974"/>
<path d="M1386.0 1952.7 V1974"/>
<path d="M1442.1 1952.7 V1974"/>
<path d="M1498.5 1952.7 V1974"/>
<path d="M1554.7 1952.7 V1974"/>
<path d="M1610.9 1952.7 V1974"/>
<path d="M645.8 1952.7 V1959.7"/>
<path d="M701.6 1952.7 V1959.7"/>
<path d="M768.4 1952.7 V1959.7"/>
</g>
<text transform="translate(106.58 1970.64) scale(1.0130 1.0372)" font-size="40">0</text>
<text transform="translate(89.28 1502.15) scale(1.0376 1.0124)" font-size="40">50</text>
<text transform="translate(60.69 1035.25) scale(1.0040 1.0124)" font-size="40">100</text>
<text transform="translate(60.99 566.55) scale(1.0024 1.0053)" font-size="40">150</text>
<text transform="translate(30.10 1294.46) rotate(-90) scale(1.0034 1.0000)" font-size="40.4">Number of cells</text>
<g fill="#0000ff">
<circle cx="190.1" cy="1300.4" r="13.3"/>
<circle cx="190.1" cy="1412.8" r="13.3"/>
<circle cx="190.1" cy="1478.4" r="13.3"/>
<circle cx="190.1" cy="1515.9" r="13.3"/>
<circle cx="208.2" cy="1534.7" r="13.3"/>
<circle cx="181.0" cy="1553.4" r="13.3"/>
</g>
<g fill="#15840a">
<circle cx="246.4" cy="1450.3" r="13.3"/>
<circle cx="246.4" cy="1562.8" r="13.3"/>
<circle cx="228.5" cy="1628.4" r="13.3"/>
<circle cx="255.9" cy="1656.5" r="13.3"/>
<circle cx="264.5" cy="1694.0" r="13.3"/>
<circle cx="236.9" cy="1722.1" r="13.3"/>
</g>
<g fill="#ff050a">
<circle cx="284.8" cy="1806.4" r="13.3"/>
<circle cx="312.3" cy="1815.8" r="13.3"/>
<circle cx="320.7" cy="1834.6" r="13.3"/>
<circle cx="284.8" cy="1843.9" r="13.3"/>
<circle cx="307.5" cy="1853.3" r="13.3"/>
<circle cx="298.0" cy="1862.7" r="13.3"/>
</g>
<g fill="#82fc0c">
<circle cx="364.3" cy="1881.4" r="13.3"/>
<circle cx="362.6" cy="1890.8" r="13.3"/>
<circle cx="363.1" cy="1909.5" r="13.3"/>
<circle cx="363.4" cy="1928.3" r="13.3"/>
</g>
<g fill="#0000ff">
<circle cx="419.4" cy="700.6" r="13.3"/>
<circle cx="419.4" cy="784.9" r="13.3"/>
<circle cx="401.3" cy="794.3" r="13.3"/>
<circle cx="428.8" cy="822.4" r="13.3"/>
<circle cx="437.5" cy="991.1" r="13.3"/>
<circle cx="409.9" cy="1009.8" r="13.3"/>
</g>
<g fill="#15840a">
<circle cx="493.5" cy="1056.7" r="13.3"/>
<circle cx="466.3" cy="1084.8" r="13.3"/>
<circle cx="457.7" cy="1122.3" r="13.3"/>
<circle cx="485.2" cy="1131.7" r="13.3"/>
<circle cx="466.3" cy="1291.0" r="13.3"/>
<circle cx="493.5" cy="1291.0" r="13.3"/>
</g>
<g fill="#ff050a">
<circle cx="531.7" cy="1815.8" r="13.3"/>
<circle cx="532.9" cy="1825.2" r="13.3"/>
<circle cx="530.9" cy="1843.9" r="13.3"/>
<circle cx="531.7" cy="1853.3" r="13.3"/>
<circle cx="549.6" cy="1890.8" r="13.3"/>
<circle cx="522.3" cy="1900.2" r="13.3"/>
</g>
<g fill="#82fc0c">
<circle cx="598.7" cy="1656.5" r="13.3"/>
<circle cx="598.7" cy="1722.1" r="13.3"/>
<circle cx="580.6" cy="1731.5" r="13.3"/>
<circle cx="608.3" cy="1759.6" r="13.3"/>
<circle cx="616.9" cy="1797.1" r="13.3"/>
<circle cx="589.1" cy="1806.4" r="13.3"/>
</g>
<g fill="#0000ff">
<circle cx="824.2" cy="1187.9" r="13.3"/>
<circle cx="824.2" cy="1253.5" r="13.3"/>
<circle cx="824.2" cy="1291.0" r="13.3"/>
<circle cx="842.3" cy="1347.2" r="13.3"/>
<circle cx="814.8" cy="1366.0" r="13.3"/>
<circle cx="825.1" cy="1384.7" r="13.3"/>
<circle cx="823.4" cy="1403.5" r="13.3"/>
<circle cx="842.3" cy="1412.8" r="13.3"/>
<circle cx="814.8" cy="1440.9" r="13.3"/>
<circle cx="806.5" cy="1553.4" r="13.3"/>
<circle cx="833.7" cy="1572.1" r="13.3"/>
<circle cx="824.4" cy="1656.5" r="13.3"/>
</g>
<g fill="#15840a">
<circle cx="880.5" cy="1366.0" r="13.3"/>
<circle cx="898.6" cy="1403.5" r="13.3"/>
<circle cx="871.0" cy="1431.6" r="13.3"/>
<circle cx="880.5" cy="1478.4" r="13.3"/>
<circle cx="862.1" cy="1487.8" r="13.3"/>
<circle cx="899.1" cy="1487.8" r="13.3"/>
<circle cx="885.7" cy="1506.5" r="13.3"/>
<circle cx="875.9" cy="1515.9" r="13.3"/>
<circle cx="862.4" cy="1600.3" r="13.3"/>
<circle cx="890.0" cy="1619.0" r="13.3"/>
<circle cx="880.5" cy="1656.5" r="13.3"/>
<circle cx="880.5" cy="1703.4" r="13.3"/>
<circle cx="880.5" cy="1750.2" r="13.3"/>
</g>
<g fill="#ff050a">
<circle cx="936.6" cy="1703.4" r="13.3"/>
<circle cx="937.3" cy="1759.6" r="13.3"/>
<circle cx="936.1" cy="1769.0" r="13.3"/>
<circle cx="936.6" cy="1778.3" r="13.3"/>
<circle cx="936.6" cy="1815.8" r="13.3"/>
<circle cx="918.6" cy="1834.6" r="13.3"/>
<circle cx="954.9" cy="1843.9" r="13.3"/>
<circle cx="932.5" cy="1853.3" r="13.3"/>
<circle cx="940.5" cy="1853.3" r="13.3"/>
<circle cx="918.6" cy="1890.8" r="13.3"/>
<circle cx="938.0" cy="1890.8" r="13.3"/>
<circle cx="954.6" cy="1890.8" r="13.3"/>
<circle cx="932.0" cy="1909.5" r="13.3"/>
</g>
<g fill="#ff8010">
<circle cx="975.0" cy="1909.5" r="13.3"/>
<circle cx="1001.8" cy="1918.9" r="13.3"/>
<circle cx="987.5" cy="1928.3" r="13.3"/>
<circle cx="997.2" cy="1947.0" r="13.3"/>
<circle cx="989.3" cy="1956.4" r="13.3"/>
</g>
<g fill="#82fc0c">
<circle cx="1043.3" cy="1956.4" r="13.3"/>
<circle cx="1054.8" cy="1956.4" r="13.3"/>
</g>
<g fill="#0000ff">
<circle cx="1105.1" cy="916.1" r="13.3"/>
<circle cx="1123.1" cy="963.0" r="13.3"/>
<circle cx="1095.6" cy="972.3" r="13.3"/>
<circle cx="1087.0" cy="981.7" r="13.3"/>
<circle cx="1114.5" cy="1009.8" r="13.3"/>
<circle cx="1105.1" cy="1047.3" r="13.3"/>
<circle cx="1105.1" cy="1159.8" r="13.3"/>
<circle cx="1123.1" cy="1178.5" r="13.3"/>
<circle cx="1095.6" cy="1206.6" r="13.3"/>
<circle cx="1105.1" cy="1272.2" r="13.3"/>
<circle cx="1105.1" cy="1506.5" r="13.3"/>
</g>
<g fill="#15840a">
<circle cx="1161.4" cy="1075.4" r="13.3"/>
<circle cx="1143.3" cy="1122.3" r="13.3"/>
<circle cx="1170.8" cy="1122.3" r="13.3"/>
<circle cx="1160.5" cy="1169.2" r="13.3"/>
<circle cx="1161.9" cy="1178.5" r="13.3"/>
<circle cx="1161.4" cy="1197.3" r="13.3"/>
<circle cx="1143.3" cy="1328.5" r="13.3"/>
<circle cx="1170.8" cy="1337.8" r="13.3"/>
<circle cx="1161.4" cy="1375.3" r="13.3"/>
<circle cx="1161.4" cy="1431.6" r="13.3"/>
<circle cx="1161.2" cy="1656.5" r="13.3"/>
</g>
<g fill="#ff050a">
<circle cx="1199.1" cy="1703.4" r="13.3"/>
<circle cx="1226.8" cy="1703.4" r="13.3"/>
<circle cx="1235.4" cy="1778.3" r="13.3"/>
<circle cx="1207.9" cy="1787.7" r="13.3"/>
<circle cx="1218.6" cy="1806.4" r="13.3"/>
<circle cx="1216.8" cy="1815.8" r="13.3"/>
<circle cx="1217.3" cy="1834.6" r="13.3"/>
<circle cx="1235.4" cy="1853.3" r="13.3"/>
<circle cx="1207.9" cy="1881.4" r="13.3"/>
</g>
<g fill="#ff8010">
<circle cx="1273.6" cy="1853.3" r="13.3"/>
<circle cx="1255.6" cy="1890.8" r="13.3"/>
<circle cx="1283.1" cy="1918.9" r="13.3"/>
<circle cx="1256.0" cy="1956.4" r="13.3"/>
<circle cx="1264.6" cy="1956.4" r="13.3"/>
<circle cx="1273.3" cy="1956.4" r="13.3"/>
<circle cx="1281.9" cy="1956.4" r="13.3"/>
<circle cx="1290.5" cy="1956.4" r="13.3"/>
</g>
<g fill="#82fc0c">
<circle cx="1330.1" cy="1853.3" r="13.3"/>
<circle cx="1330.1" cy="1918.9" r="13.3"/>
<circle cx="1326.0" cy="1956.4" r="13.3"/>
<circle cx="1333.5" cy="1956.4" r="13.3"/>
</g>
<g fill="#0000ff">
<circle cx="1385.9" cy="794.3" r="13.3"/>
<circle cx="1367.9" cy="925.5" r="13.3"/>
<circle cx="1395.4" cy="934.9" r="13.3"/>
<circle cx="1385.1" cy="963.0" r="13.3"/>
<circle cx="1386.5" cy="981.7" r="13.3"/>
<circle cx="1367.9" cy="1009.8" r="13.3"/>
<circle cx="1395.4" cy="1019.2" r="13.3"/>
<circle cx="1385.0" cy="1056.7" r="13.3"/>
<circle cx="1387.0" cy="1066.1" r="13.3"/>
<circle cx="1386.0" cy="1075.4" r="13.3"/>
<circle cx="1367.9" cy="1216.0" r="13.3"/>
<circle cx="1395.4" cy="1234.8" r="13.3"/>
<circle cx="1385.9" cy="1450.3" r="13.3"/>
</g>
<g fill="#15840a">
<circle cx="1442.2" cy="1056.7" r="13.3"/>
<circle cx="1424.1" cy="1084.8" r="13.3"/>
<circle cx="1451.3" cy="1103.5" r="13.3"/>
<circle cx="1459.9" cy="1112.9" r="13.3"/>
<circle cx="1432.8" cy="1141.0" r="13.3"/>
<circle cx="1442.2" cy="1197.3" r="13.3"/>
<circle cx="1459.9" cy="1225.4" r="13.3"/>
<circle cx="1432.8" cy="1234.8" r="13.3"/>
<circle cx="1442.2" cy="1272.2" r="13.3"/>
<circle cx="1459.9" cy="1309.7" r="13.3"/>
<circle cx="1432.8" cy="1319.1" r="13.3"/>
<circle cx="1442.2" cy="1366.0" r="13.3"/>
<circle cx="1459.9" cy="1497.2" r="13.3"/>
<circle cx="1432.8" cy="1515.9" r="13.3"/>
</g>
<g fill="#ff050a">
<circle cx="1497.2" cy="1684.6" r="13.3"/>
<circle cx="1499.5" cy="1694.0" r="13.3"/>
<circle cx="1498.5" cy="1703.4" r="13.3"/>
<circle cx="1480.4" cy="1731.5" r="13.3"/>
<circle cx="1507.6" cy="1750.2" r="13.3"/>
<circle cx="1496.4" cy="1759.6" r="13.3"/>
<circle cx="1498.6" cy="1769.0" r="13.3"/>
<circle cx="1499.5" cy="1778.3" r="13.3"/>
<circle cx="1498.5" cy="1787.7" r="13.3"/>
<circle cx="1499.5" cy="1825.2" r="13.3"/>
<circle cx="1498.1" cy="1853.3" r="13.3"/>
<circle cx="1498.5" cy="1890.8" r="13.3"/>
</g>
<g fill="#ff8010">
<circle cx="1554.7" cy="1834.6" r="13.3"/>
<circle cx="1536.4" cy="1862.7" r="13.3"/>
<circle cx="1572.6" cy="1872.1" r="13.3"/>
<circle cx="1550.3" cy="1890.8" r="13.3"/>
<circle cx="1558.7" cy="1890.8" r="13.3"/>
<circle cx="1551.5" cy="1947.0" r="13.3"/>
<circle cx="1558.5" cy="1956.4" r="13.3"/>
</g>
<g fill="#26ff10">
<circle cx="1610.5" cy="1825.2" r="13.3"/>
<circle cx="1610.5" cy="1862.7" r="13.3"/>
<circle cx="1612.4" cy="1937.7" r="13.3"/>
<circle cx="1592.8" cy="1956.4" r="13.3"/>
<circle cx="1604.5" cy="1956.4" r="13.3"/>
<circle cx="1616.2" cy="1956.4" r="13.3"/>
<circle cx="1627.8" cy="1956.4" r="13.3"/>
</g>
<g stroke="#000" stroke-width="6" fill="none">
<path d="M171.5 1466.0 H209.0"/>
<path d="M400.8 850.7 H438.3"/>
<path d="M805.8 1405.6 H842.3"/>
<path d="M1086.7 1110.3 H1123.7"/>
<path d="M1367.5 1050.9 H1404.4"/>
</g>
<g font-size="39" text-anchor="end">
<text transform="translate(201.1 2036.1) rotate(-44.7) scale(1.04 1)">Nuclei</text>
<text transform="translate(261.3 2027.5) rotate(-44.7) scale(1.04 1)">Trophoblast cells</text>
<text transform="translate(317.9 2031.1) rotate(-44.7) scale(1.04 1)">Nanog+ cells</text>
<text transform="translate(379.9 2026.3) rotate(-44.7) scale(1.04 1)">PDGRa+ cells</text>
<text transform="translate(434.4 2032.3) rotate(-44.7) scale(1.04 1)">Nuclei</text>
<text transform="translate(491.4 2025.8) rotate(-44.7) scale(1.04 1)">Trophoblast cells</text>
<text transform="translate(547.6 2028.8) rotate(-44.7) scale(1.04 1)">Nanog+ cells</text>
<text transform="translate(612.0 2023.8) rotate(-44.7) scale(1.04 1)">PDGRa+ cells</text>
<text transform="translate(835.9 2028.8) rotate(-44.7) scale(1.04 1)">Nuclei</text>
<text transform="translate(898.1 2021.0) rotate(-44.7) scale(1.04 1)">Trophoblast cells</text>
<text transform="translate(952.5 2023.5) rotate(-44.7) scale(1.04 1)">Nanog+ cells</text>
<text transform="translate(1010.9 2021.3) rotate(-44.7) scale(1.04 1)">Gata6+ cells</text>
<text transform="translate(1065.0 2019.1) rotate(-44.7) scale(1.04 1)">PDGRa+ cells</text>
<text transform="translate(1121.1 2030.3) rotate(-44.7) scale(1.04 1)">Nuclei</text>
<text transform="translate(1182.4 2024.1) rotate(-44.7) scale(1.04 1)">Trophoblast cells</text>
<text transform="translate(1235.8 2025.4) rotate(-44.7) scale(1.04 1)">Nanog+ cells</text>
<text transform="translate(1291.9 2022.5) rotate(-44.7) scale(1.04 1)">Gata6+ cells</text>
<text transform="translate(1349.3 2021.3) rotate(-44.7) scale(1.04 1)">PDGRa+ cells</text>
<text transform="translate(1400.2 2027.6) rotate(-44.7) scale(1.04 1)">Nuclei</text>
<text transform="translate(1460.2 2020.5) rotate(-44.7) scale(1.04 1)">Trophoblast cells</text>
<text transform="translate(1516.9 2023.1) rotate(-44.7) scale(1.04 1)">Nanog+ cells</text>
<text transform="translate(1575.1 2021.0) rotate(-44.7) scale(1.04 1)">Gata6+ cells</text>
<text transform="translate(1632.2 2017.9) rotate(-44.7) scale(1.04 1)">PDGRa+ cells</text>
</g>
<text transform="translate(241.37 2354.00) scale(1.0412 1.0000)" font-size="39">E3.5</text>
<text transform="translate(486.52 2354.00) scale(1.0405 1.0000)" font-size="39">E4.5</text>
<text transform="translate(861.86 2354.00) scale(1.0425 1.0000)" font-size="39">48 hours</text>
<text transform="translate(1103.91 2354.00) scale(1.0435 1.0000)" font-size="39">72 hours</text>
<text transform="translate(1349.77 2354.00) scale(1.0485 1.0000)" font-size="39">86 hours</text>
<text transform="translate(311.45 2511.70) scale(1.0297 1.0000)" font-size="39.5">Blastocysts</text>
<text transform="translate(1040.80 2508.70) scale(1.0450 1.0000)" font-size="39">Blastoids</text>
<path d="M164.6 2392.5 V2398.5 C164.9 2415.1 166.6 2422.3 172.6 2422.3 H408.4 M423.4 2422.3 H659.3 C665.3 2422.3 667.0 2415.1 667.3 2398.5 V2392.5" stroke="#000" stroke-width="2.0" fill="none"/><path d="M406.4 2422.6 C413.4 2422.6 415.0 2437.6 415.6 2452.8 M425.4 2422.6 C418.5 2422.6 416.9 2437.6 416.3 2452.8" stroke="#000" stroke-width="2.5" fill="none"/>
<path d="M803.4 2422.0 H1178.5 M1201.5 2422.0 H1576.5" stroke="#000" stroke-width="2.3" fill="none"/><path d="M1176.5 2422.8 C1186.2 2422.8 1188.3 2437.4 1188.9 2452.8 M1203.5 2422.8 C1193.7 2422.8 1191.6 2437.4 1191.0 2452.8" stroke="#000" stroke-width="3.9" fill="none"/><path d="M804.4 2421.4 C795.4 2421.4 791.5 2410.0 791.0 2392.2 M1575.5 2421.4 C1584.5 2421.4 1588.4 2410.0 1588.9 2392.2" stroke="#000" stroke-width="3.5" fill="none"/>
</svg></body></html>
